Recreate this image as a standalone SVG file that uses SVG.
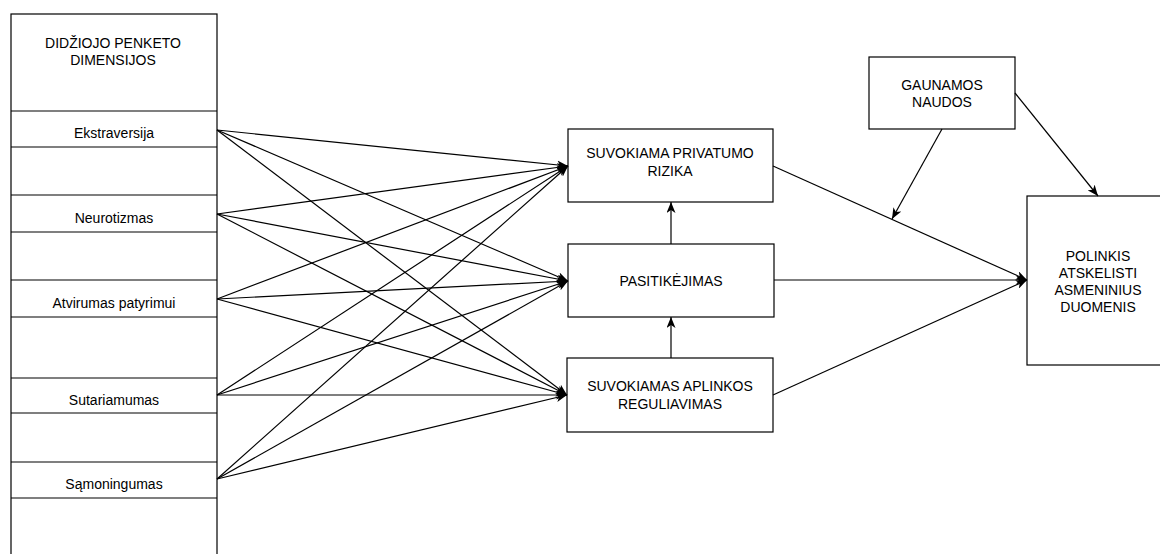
<svg xmlns="http://www.w3.org/2000/svg" width="1160" height="554" viewBox="0 0 1160 554">
<style>
.box{fill:#fff;stroke:#000;stroke-width:1.2}
.sep{stroke:#000;stroke-width:1.2}
.t{font-family:"Liberation Sans",Arial,sans-serif;font-size:14px;fill:#000;text-anchor:middle}
.c{fill:none;stroke:#000;stroke-width:1.2}
</style>
<defs>
<marker id="ar" markerUnits="userSpaceOnUse" markerWidth="11" markerHeight="9" viewBox="0 0 11 9" refX="11" refY="4.5" orient="auto">
<path d="M0,0 L11,4.5 L0,9 L3,4.5 z" fill="#000"/>
</marker>
</defs>
<rect width="1160" height="554" fill="#fff"/>
<g id="big-five">
<rect class="box" x="11" y="14" width="206" height="560"/>
<line class="sep" x1="11" y1="111" x2="217" y2="111"/>
<line class="sep" x1="11" y1="147" x2="217" y2="147"/>
<line class="sep" x1="11" y1="195" x2="217" y2="195"/>
<line class="sep" x1="11" y1="232" x2="217" y2="232"/>
<line class="sep" x1="11" y1="280" x2="217" y2="280"/>
<line class="sep" x1="11" y1="317" x2="217" y2="317"/>
<line class="sep" x1="11" y1="378" x2="217" y2="378"/>
<line class="sep" x1="11" y1="413" x2="217" y2="413"/>
<line class="sep" x1="11" y1="462" x2="217" y2="462"/>
<line class="sep" x1="11" y1="498" x2="217" y2="498"/>
<text class="t" x="113" y="48">DIDŽIOJO PENKETO</text>
<text class="t" x="113" y="65">DIMENSIJOS</text>
<text class="t" x="114" y="138">Ekstraversija</text>
<text class="t" x="114" y="223">Neurotizmas</text>
<text class="t" x="114" y="308">Atvirumas patyrimui</text>
<text class="t" x="114" y="405">Sutariamumas</text>
<text class="t" x="114" y="489">Sąmoningumas</text>
</g>
<g id="privatumo-rizika">
<rect class="box" x="568" y="129" width="205" height="73"/>
<text class="t" x="670" y="158">SUVOKIAMA PRIVATUMO</text>
<text class="t" x="670" y="176">RIZIKA</text>
</g>
<g id="pasitikejimas">
<rect class="box" x="568" y="244" width="206" height="73"/>
<text class="t" x="671" y="286">PASITIKĖJIMAS</text>
</g>
<g id="aplinkos-reguliavimas">
<rect class="box" x="567" y="358" width="206" height="74"/>
<text class="t" x="670" y="391">SUVOKIAMAS APLINKOS</text>
<text class="t" x="670" y="409">REGULIAVIMAS</text>
</g>
<g id="gaunamos-naudos">
<rect class="box" x="869" y="57" width="146" height="72"/>
<text class="t" x="942" y="90">GAUNAMOS</text>
<text class="t" x="942" y="107">NAUDOS</text>
</g>
<g id="polinkis">
<rect class="box" x="1027" y="196" width="145" height="169"/>
<text class="t" x="1098" y="261">POLINKIS</text>
<text class="t" x="1098" y="278">ATSKELISTI</text>
<text class="t" x="1098" y="295">ASMENINIUS</text>
<text class="t" x="1098" y="312">DUOMENIS</text>
</g>
<g id="connectors">
<line class="c" x1="217" y1="130" x2="568" y2="166" marker-end="url(#ar)"/>
<line class="c" x1="217" y1="130" x2="568" y2="281" marker-end="url(#ar)"/>
<line class="c" x1="217" y1="130" x2="567" y2="395" marker-end="url(#ar)"/>
<line class="c" x1="217" y1="214" x2="568" y2="166" marker-end="url(#ar)"/>
<line class="c" x1="217" y1="214" x2="568" y2="281" marker-end="url(#ar)"/>
<line class="c" x1="217" y1="214" x2="567" y2="395" marker-end="url(#ar)"/>
<line class="c" x1="217" y1="299" x2="568" y2="166" marker-end="url(#ar)"/>
<line class="c" x1="217" y1="299" x2="568" y2="281" marker-end="url(#ar)"/>
<line class="c" x1="217" y1="299" x2="567" y2="395" marker-end="url(#ar)"/>
<line class="c" x1="217" y1="395" x2="568" y2="166" marker-end="url(#ar)"/>
<line class="c" x1="217" y1="395" x2="568" y2="281" marker-end="url(#ar)"/>
<line class="c" x1="217" y1="395" x2="567" y2="395" marker-end="url(#ar)"/>
<line class="c" x1="217" y1="479" x2="568" y2="166" marker-end="url(#ar)"/>
<line class="c" x1="217" y1="479" x2="568" y2="281" marker-end="url(#ar)"/>
<line class="c" x1="217" y1="479" x2="567" y2="395" marker-end="url(#ar)"/>
<line class="c" x1="671" y1="244" x2="671" y2="202" marker-end="url(#ar)"/>
<line class="c" x1="671" y1="358" x2="671" y2="317" marker-end="url(#ar)"/>
<line class="c" x1="773" y1="166" x2="1027" y2="280" marker-end="url(#ar)"/>
<line class="c" x1="774" y1="280" x2="1027" y2="280" marker-end="url(#ar)"/>
<line class="c" x1="773" y1="395" x2="1027" y2="280" marker-end="url(#ar)"/>
<line class="c" x1="942" y1="129" x2="892" y2="219" marker-end="url(#ar)"/>
<line class="c" x1="1015" y1="93" x2="1098" y2="196" marker-end="url(#ar)"/>
</g>
</svg>
